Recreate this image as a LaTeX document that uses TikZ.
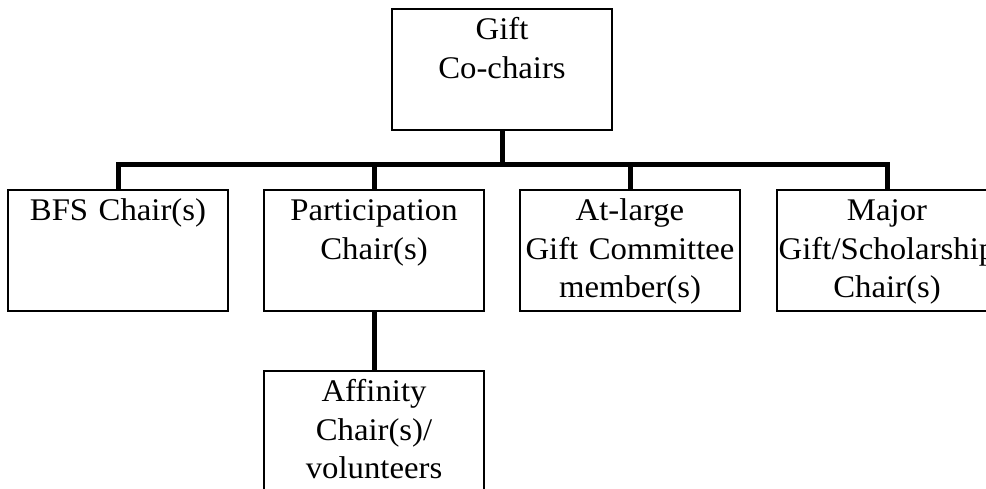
\documentclass[tikz,border=0pt]{standalone}
\usepackage{fontspec}
\setmainfont[FakeStretch=1.04]{Liberation Serif}
\usetikzlibrary{positioning,calc}

\tikzset{
  box/.style={draw, line width=1.3pt, inner sep=0pt, outer sep=0pt,
    text width=220pt, text height=31pt, text depth=90pt, align=center,
    font=\fontsize{31.5}{38.5}\selectfont},
  link/.style={line width=5pt}
}

\begin{document}
\begin{tikzpicture}[x=1pt,y=1pt]
  \useasboundingbox (0,0) rectangle (986,489);
  %% second row
  \node[box] (part) at (374,238.5) {Participation\\Chair(s)};
  \node[box, left=36pt of part] (bfs) {BFS Chair(s)};
  \node[box, right=36pt of part] (atl) {At-large\\Gift Committee\\member(s)};
  \node[box, right=37pt of atl] (major) {Major\\Gift/Scholarship\\Chair(s)};
  %% top and bottom
  \node[box, above=60pt of {$(part.north)!.5!(atl.north)$}] (gift) {Gift\\Co-chairs};
  \node[box, below=60pt of part] (aff) {Affinity\\Chair(s)/\\volunteers};
  \coordinate[below=35pt of gift] (bar);
  % connectors
  \draw[link] (gift) -- (bar);
  \foreach \n in {bfs,part,atl,major}
    \draw[link] (bar) -| (\n);
  \draw[link] (part) -- (aff);
\end{tikzpicture}
\end{document}
